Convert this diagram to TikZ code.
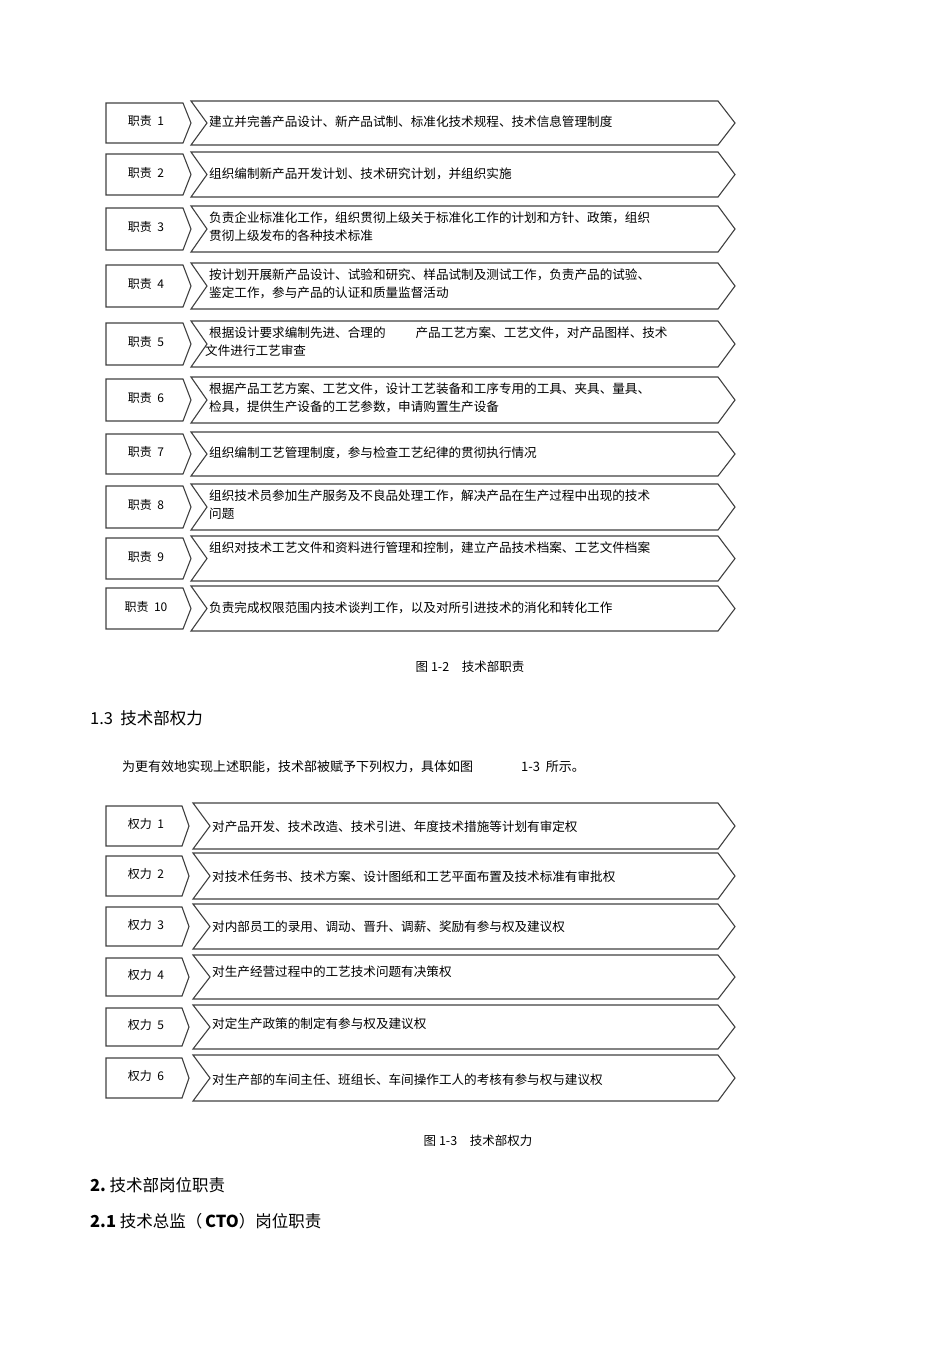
\documentclass[tikz,border=0pt]{standalone}
\usepackage{fontspec}
\setmainfont{Noto Sans CJK SC}
\begin{document}
\begin{tikzpicture}[x=1pt,y=-1pt,
 shp/.style={draw=black!75,line width=1.1pt,line join=miter},
 lab/.style={font=\fontsize{12}{14}\selectfont,anchor=center},
 txt/.style={font=\fontsize{12.6}{18}\selectfont,anchor=north west,align=left,inner sep=0pt},
 hd/.style={font=\fontsize{16.5}{19}\selectfont,anchor=west,inner sep=0pt}]
\useasboundingbox (0,0) rectangle (950,1345);
% duties
\foreach \n/\t/\b/\ty/\tx in {1/101/145/116/{建立并完善产品设计、新产品试制、标准化技术规程、技术信息管理制度},
 2/152/197/168/{组织编制新产品开发计划、技术研究计划，并组织实施},
 3/206/252/212/{负责企业标准化工作，组织贯彻上级关于标准化工作的计划和方针、政策，组织\\贯彻上级发布的各种技术标准},
 4/263/309/269/{按计划开展新产品设计、试验和研究、样品试制及测试工作，负责产品的试验、\\鉴定工作，参与产品的认证和质量监督活动},
 6/377/423/383/{根据产品工艺方案、工艺文件，设计工艺装备和工序专用的工具、夹具、量具、\\检具，提供生产设备的工艺参数，申请购置生产设备},
 7/432/476/447/{组织编制工艺管理制度，参与检查工艺纪律的贯彻执行情况},
 8/484/530/490/{组织技术员参加生产服务及不良品处理工作，解决产品在生产过程中出现的技术\\问题},
 9/536/581/542/{组织对技术工艺文件和资料进行管理和控制，建立产品技术档案、工艺文件档案},
 10/586/631/602/{负责完成权限范围内技术谈判工作，以及对所引进技术的消化和转化工作}}{
 \pgfmathsetmacro{\m}{(\t+\b)/2}
 \draw[shp] (106,\t+2) -- (183,\t+2) -- (191,\m) -- (183,\b-2) -- (106,\b-2) -- cycle;
 \node[lab] (d\n) at (146,\m-2) {职责\ \ \n};
 \draw[shp] (191,\t) -- (718,\t) -- (735,\m) -- (718,\b) -- (191,\b) -- (207,\m) -- cycle;
 \node[txt] (e\n) at (209,\ty) {\tx};
}
% row 5
\draw[shp] (106,323) -- (183,323) -- (191,344) -- (183,365) -- (106,365) -- cycle;
\node[lab] (d5) at (146,342) {职责\ \ 5};
\draw[shp] (191,321) -- (718,321) -- (735,344) -- (718,367) -- (191,367) -- (207,344) -- cycle;
\node[txt] (e5) at (209,327) {根据设计要求编制先进、合理的\hspace{30pt}产品工艺方案、工艺文件，对产品图样、技术};
\node[txt] (e5b) at (205,345) {文件进行工艺审查};
\node[font=\fontsize{12.5}{14}\selectfont] (cap1) at (470,667) {图\ 1-2\quad 技术部职责};
\node[hd] (h13) at (90,718) {1.3\ \ 技术部权力};
\node[font=\fontsize{13}{15}\selectfont,anchor=west,inner sep=0pt] (p) at (122,767) {为更有效地实现上述职能，技术部被赋予下列权力，具体如图\hspace{48pt}1-3\ \ 所示。};
% powers
\foreach \n/\t/\b/\ty/\tx in {1/803/849/821/{对产品开发、技术改造、技术引进、年度技术措施等计划有审定权},
 2/853/899/871/{对技术任务书、技术方案、设计图纸和工艺平面布置及技术标准有审批权},
 3/904/949/921/{对内部员工的录用、调动、晋升、调薪、奖励有参与权及建议权},
 4/955/999/966/{对生产经营过程中的工艺技术问题有决策权},
 5/1005/1049/1018/{对定生产政策的制定有参与权及建议权},
 6/1055/1101/1074/{对生产部的车间主任、班组长、车间操作工人的考核有参与权与建议权}}{
 \pgfmathsetmacro{\m}{(\t+\b)/2}
 \draw[shp] (106,\t+3) -- (182,\t+3) -- (189,\m) -- (182,\b-3) -- (106,\b-3) -- cycle;
 \node[lab] (q\n) at (146,\m-2) {权力\ \ \n};
 \draw[shp] (193,\t) -- (718,\t) -- (735,\m) -- (718,\b) -- (193,\b) -- (210,\m) -- cycle;
 \node[txt] (r\n) at (212,\ty) {\tx};
}
\node[font=\fontsize{12.5}{14}\selectfont] (cap2) at (478,1141) {图\ 1-3\quad 技术部权力};
\node[hd] (h2) at (90,1185) {\textbf{2.}\ 技术部岗位职责};
\node[hd] (h21) at (90,1221) {\textbf{2.1}\ 技术总监（\,\textbf{CTO}）岗位职责};
\end{tikzpicture}
\end{document}
